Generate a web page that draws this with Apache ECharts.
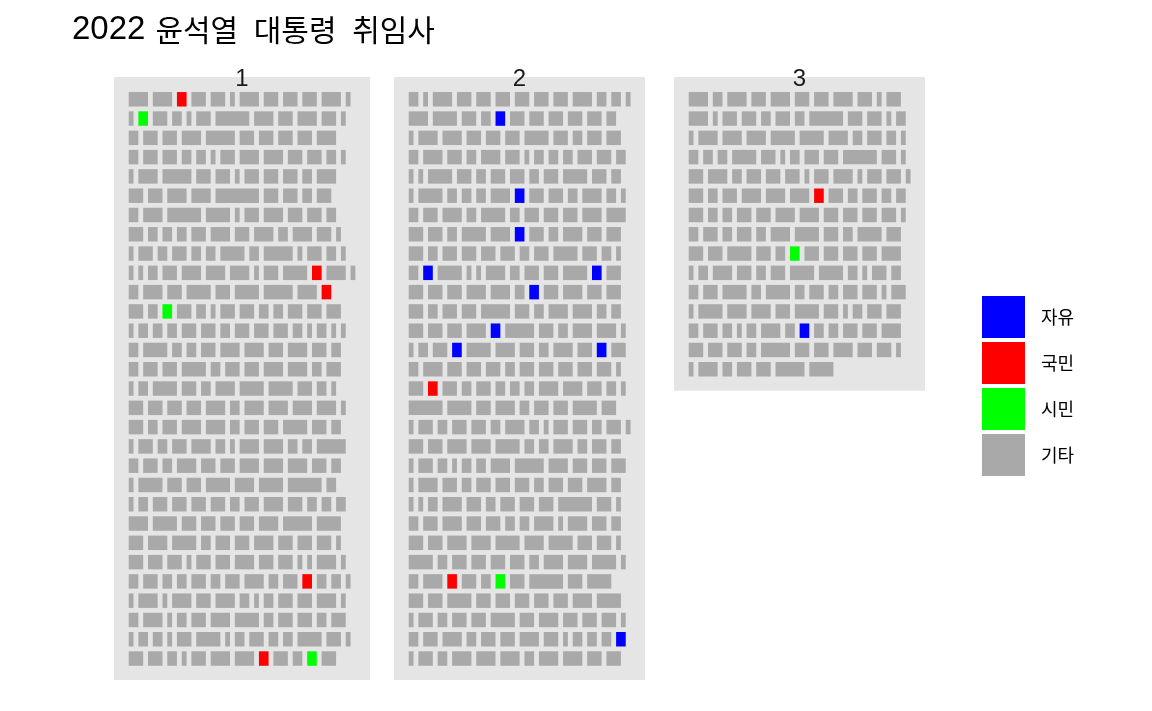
<!DOCTYPE html>
<html>
<head>
<meta charset="utf-8">
<script src="https://cdn.jsdelivr.net/npm/echarts@6/dist/echarts.min.js"></script>
<style>
  html, body { margin: 0; padding: 0; background: #ffffff; }
  #chart { width: 1152px; height: 711px; }
</style>
</head>
<body>
<div id="chart"></div>
<script>
// ---------------- DATA ----------------
// Each string is one line of the speech; each number is the length (in characters)
// of one word. Prefix B = contains "자유", R = "국민", G = "시민"; no prefix = 기타.
const categories = ['자유', '국민', '시민', '기타'];
const categoryCodes = ['B', 'R', 'G', ''];
const categoryColors = ['#0000FF', '#FF0000', '#00FF00', '#A9A9A9'];
const pageLabels = ['1', '2', '3'];

const page1Rows = [
  "4 4 R2 3 3 1 4 3 3 3 4 1",
  "1 G2 3 2 1 3 7 4 3 4 3 1",
  "2 3 3 4 6 3 3 3 3 4",
  "2 3 3 2 2 1 3 4 4 3 3 2 1",
  "1 4 6 3 3 1 3 3 3 2 4",
  "3 3 4 4 9 3 3 2 3",
  "2 4 7 5 1 3 4 3 3 2",
  "3 2 2 2 3 4 3 4 2 4 3 1",
  "1 3 2 3 2 2 5 2 6 1 3 2 1",
  "1 1 2 3 4 4 4 1 3 5 R2 4 1",
  "2 4 3 5 3 5 6 4 R2",
  "3 2 G2 3 2 1 3 3 2 2 3 3 3",
  "1 2 2 2 3 3 2 3 3 3 2 1 2 1 1",
  "2 5 2 2 3 4 4 3 4 3 2",
  "2 3 3 5 2 3 3 4 4 2 3",
  "1 2 5 3 2 4 5 5 3 2 1",
  "3 3 3 3 4 2 4 4 4 4 1",
  "3 2 3 4 4 2 3 3 5 3 2",
  "1 3 2 3 4 2 1 4 4 2 2 6",
  "2 3 2 4 3 3 4 4 4 3 2",
  "1 5 3 3 5 4 5 7 2",
  "1 2 3 3 3 3 2 3 4 3 2 2 2",
  "4 5 3 3 3 3 4 6 5",
  "3 4 5 2 3 3 4 3 3 3 1",
  "3 3 3 1 3 3 4 3 3 1 1 4 1",
  "2 3 2 2 3 2 3 4 2 3 R2 2 2 1",
  "1 4 1 4 3 4 2 1 2 3 3 4 1",
  "2 4 1 2 3 4 5 2 3 3 2 3",
  "1 2 2 1 3 5 1 2 3 2 2 5 3 1",
  "3 3 2 1 3 4 4 R2 3 2 G2 3"
];

const page2Rows = [
  "2 1 4 3 3 3 3 3 3 4 2 2 1",
  "4 5 3 2 B2 3 3 3 3 3 2",
  "1 4 4 3 3 3 5 3 2 3 3",
  "2 4 3 2 4 3 1 2 2 2 3 3 2",
  "1 1 5 3 2 3 3 2 3 5 3 2",
  "1 5 2 2 2 4 B2 3 3 2 4 2 1",
  "2 3 4 2 5 2 3 3 3 4 4",
  "3 3 2 5 4 B2 3 2 4 3 3",
  "3 2 3 3 3 3 2 3 5 3 2 1",
  "2 B2 5 1 1 4 2 3 3 5 B2 3",
  "3 3 3 4 4 2 B2 3 4 3 3",
  "3 2 3 3 6 3 2 4 4 2 2",
  "3 3 3 4 B2 6 3 2 4 4 1",
  "1 2 3 B2 5 4 3 2 4 3 B2 3",
  "2 4 3 3 3 2 3 3 3 3 3 1",
  "3 R2 3 2 3 2 2 2 4 4 3 2 1",
  "7 5 3 4 2 3 3 5 3",
  "1 3 2 3 3 2 4 2 1 3 3 2 3 1",
  "3 3 4 4 5 2 2 4 2 3 2",
  "1 3 2 1 2 2 4 6 4 3 3 3",
  "1 4 3 2 3 3 3 2 3 3 4 2",
  "1 1 2 4 3 2 3 3 3 7 3 1",
  "2 3 4 3 3 2 2 4 1 4 3 2",
  "3 3 4 4 5 4 5 3 3 1",
  "5 2 3 3 3 3 2 4 4 5 1",
  "2 4 R2 3 2 G2 3 7 3 5",
  "3 3 5 3 3 3 3 3 4 5",
  "1 3 2 3 3 5 3 4 3 3 3 1",
  "2 3 4 2 3 3 4 3 1 2 2 2 B2",
  "1 3 2 4 4 4 2 4 4 3 3"
];

const page3Rows = [
  "4 2 4 3 4 3 3 4 3 1 3",
  "4 1 3 3 2 3 2 7 3 3 1 2",
  "1 4 4 4 5 5 4 2 3 2 1",
  "2 2 2 5 3 1 2 3 3 7 3 1",
  "3 4 2 3 3 3 1 3 4 1 3 3 1",
  "3 2 3 4 4 4 R2 3 2 3 2 2",
  "3 2 2 3 3 4 4 3 3 3 3 1",
  "2 3 2 3 2 4 5 3 2 5 3",
  "3 3 5 3 2 G2 3 3 3 3 4",
  "1 2 4 3 2 3 5 5 2 1 3 2",
  "2 3 5 2 5 2 3 2 3 3 1 3",
  "1 5 4 4 3 5 3 1 2 3 3",
  "2 3 2 1 2 4 2 B2 2 2 3 3 4",
  "3 3 3 2 6 3 3 4 3 3 1",
  "1 4 2 3 3 6 5"
];

const pages = [page1Rows, page2Rows, page3Rows];

// ---------------- LAYOUT ----------------
const CJK = "'Noto Sans CJK KR', 'Noto Sans', sans-serif";
const LATIN = "'Liberation Sans', Arial, sans-serif";
const PANEL_BG = '#E5E5E5';
const CHAR_PX = 4.823;     // pixels per character on x
const ROW_PX = 19.285;     // pixels per line on y
const X_LEFT_PAD = 3.05;   // characters of padding left of column 0
const Y_TOP = -0.155;      // axis value at panel top
const BAR_H = 0.75;        // bar height, in lines
const panels = [
  { left: 114, top: 77, width: 256, height: 603 },
  { left: 394, top: 77, width: 251, height: 603 },
  { left: 674, top: 77, width: 251, height: 313.7 }
];

// ---------------- BUILD ----------------
function codeOf(tok) {
  const c = tok.charAt(0);
  return (c === 'B' || c === 'R' || c === 'G') ? c : '';
}
function lenOf(tok) {
  return parseInt(tok.replace(/^[BRG]/, ''), 10);
}

const seriesData = pages.map(() => categories.map(() => []));
pages.forEach((rows, p) => {
  rows.forEach((line, r) => {
    let pos = 0;
    line.trim().split(/\s+/).forEach(tok => {
      const len = lenOf(tok);
      const ci = categoryCodes.indexOf(codeOf(tok));
      seriesData[p][ci].push([pos, pos + len, r + 1]);
      pos += len + 1;
    });
  });
});

function renderItem(params, api) {
  const x0 = api.value(0), x1 = api.value(1), row = api.value(2);
  const a = api.coord([x0, row - BAR_H / 2]);
  const b = api.coord([x1, row + BAR_H / 2]);
  return {
    type: 'rect',
    shape: {
      x: Math.min(a[0], b[0]),
      y: Math.min(a[1], b[1]),
      width: Math.abs(b[0] - a[0]),
      height: Math.abs(b[1] - a[1])
    },
    style: { fill: api.visual('color') }
  };
}

const grids = panels.map(g => ({
  left: g.left, top: g.top, width: g.width, height: g.height,
  show: true, backgroundColor: PANEL_BG, borderWidth: 0, containLabel: false
}));
const xAxes = panels.map((g, i) => ({
  type: 'value', gridIndex: i, show: false,
  min: -X_LEFT_PAD, max: -X_LEFT_PAD + g.width / CHAR_PX
}));
const yAxes = panels.map((g, i) => ({
  type: 'value', gridIndex: i, show: false, inverse: true,
  min: Y_TOP, max: Y_TOP + g.height / ROW_PX
}));

const series = [];
pages.forEach((rows, p) => {
  categories.forEach((name, c) => {
    series.push({
      type: 'custom', name: name,
      xAxisIndex: p, yAxisIndex: p,
      coordinateSystem: 'cartesian2d',
      itemStyle: { color: categoryColors[c] },
      encode: { x: [0, 1], y: 2 },
      data: seriesData[p][c],
      renderItem: renderItem,
      silent: true
    });
  });
});

const stripLabels = panels.map((g, i) => ({
  type: 'text',
  x: g.left + g.width / 2,
  y: 79,
  z: 100,
  style: {
    text: pageLabels[i],
    font: "24px " + LATIN,
    fill: '#1a1a1a',
    textAlign: 'center',
    textVerticalAlign: 'middle'
  }
}));

const option = {
  animation: false,
  backgroundColor: '#ffffff',
  title: {
    left: 72, top: 12, padding: 0,
    text: '{d|2022}{a| }{k|윤석열}{s| }{k|대통령}{s| }{k|취임사}',
    textStyle: {
      fontSize: 30, fontFamily: CJK, fontWeight: 'normal', color: '#000',
      rich: {
        d: { fontFamily: LATIN, fontSize: 33, fontWeight: 'normal', color: '#000', lineHeight: 35 },
        a: { fontFamily: LATIN, fontSize: 36, fontWeight: 'normal', color: '#000', lineHeight: 35 },
        s: { fontFamily: LATIN, fontSize: 56, fontWeight: 'normal', color: '#000', lineHeight: 35 },
        k: { fontFamily: CJK, fontSize: 30, fontWeight: 'normal', color: '#000', lineHeight: 35 }
      }
    }
  },
  legend: {
    orient: 'vertical', left: 982, top: 296, padding: 0,
    itemWidth: 43, itemHeight: 42, itemGap: 4,
    selectedMode: false,
    data: categories.map((n, i) => ({
      name: n, icon: 'rect',
      itemStyle: { color: categoryColors[i], borderWidth: 0 }
    })),
    textStyle: { fontFamily: CJK, fontSize: 18, color: '#000', padding: [3, 0, 0, 11] }
  },
  grid: grids,
  xAxis: xAxes,
  yAxis: yAxes,
  series: series,
  graphic: stripLabels
};

const chart = echarts.init(document.getElementById('chart'), null, { renderer: 'canvas' });
chart.setOption(option);
</script>
</body>
</html>
